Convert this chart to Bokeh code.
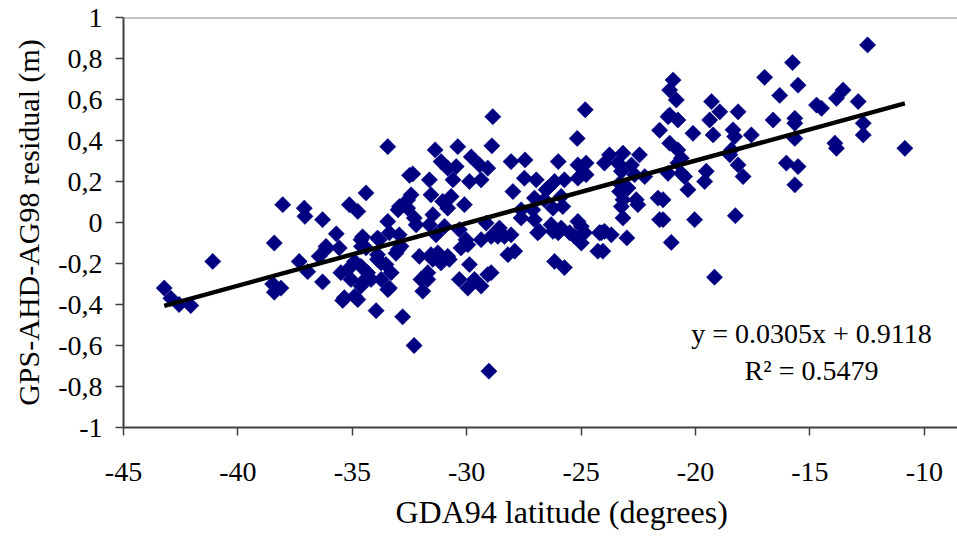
from bokeh.plotting import figure
from bokeh.models import Range1d, FixedTicker, CustomJSTickFormatter, Span, ColumnDataSource, Title
from bokeh.core.properties import value
from bokeh.embed import file_html
from bokeh.resources import INLINE
import math

# ---- data ----
lat = [
    -43.22, -42.93, -42.57, -42.06, -41.10,
    -38.41, -38.48, -38.12, -38.41, -38.04,
    -37.32, -36.95, -37.10, -37.07, -36.30, -36.30, -36.15, -35.70, -36.45, -36.15,
    -35.42, -34.76, -33.96, -32.80, -32.30, -29.03,
    -35.13, -34.76, -34.40, -33.45, -33.45, -33.00, -32.58, -32.50,
    -35.57, -34.55, -33.82, -32.95, -34.60, -33.09, -33.90, -34.90, -35.50, -34.33, -33.30,
    -35.20, -34.62, -34.18, -34.55, -33.45, -33.74, -33.00, -35.35, -34.90, -35.06, -34.62,
    -31.38, -30.39, -28.86, -28.90, -24.82, -25.17, -32.36,
    -31.12, -30.83, -30.46, -29.80, -29.44, -29.08, -28.06, -27.45, -26.00, -25.14, -24.78, -24.78, -25.14,
    -31.63, -30.60, -29.88, -29.37, -27.48, -26.96, -27.98, -26.53, -26.16, -25.73,
    -32.43, -31.56, -30.68, -32.94, -32.58, -31.05, -30.83, -30.10, -27.04, -26.60, -25.87, -25.80, -26.23, -27.62,
    -32.29, -31.48, -32.21, -31.63, -31.34, -30.97, -30.32, -29.15, -28.57, -28.35, -28.93, -29.37, -27.62, -27.04,
    -26.82, -26.31, -25.87, -25.14, -25.50, -24.85, -24.99, -24.20, -24.27,
    -28.20, -27.90, -26.16, -25.73, -29.88, -30.25, -29.95, -30.32, -29.66, -29.08, -29.37, -29.95,
    -31.70, -31.48, -31.26, -30.83, -32.07, -31.92, -32.00, -33.38, -33.74, -33.53, -33.90, -32.87,
    -34.40, -34.62, -33.90, -33.38,
    -31.12, -30.76, -31.56, -28.93, -30.03, -28.64, -28.06, -26.90, -26.00, -25.29, -23.00, -24.12, -23.68,
    -21.06, -24.05, -31.70,
    -21.13, -20.77, -21.57, -21.13, -20.77, -23.76, -23.17, -22.45, -23.98, -23.39, -22.80, -23.24, -22.66,
    -22.22, -21.20, -20.77, -23.32, -23.32, -22.95, -23.17, -22.59, -22.52, -23.24, -21.64, -23.17, -21.57,
    -23.98, -24.92, -26.45, -27.11, -24.99, -26.23,
    -12.48, -15.76, -16.98, -15.52, -16.32, -13.55, -13.84, -12.89, -14.71, -14.49, -20.98, -21.13, -20.84,
    -19.30, -18.94, -18.14, -19.38, -21.20, -16.61, -15.66, -15.66, -12.67, -12.67, -20.11, -19.23, -18.36,
    -18.29, -17.56, -15.66, -13.91, -13.84, -10.85, -20.62, -18.43, -18.50, -16.03, -15.52, -18.14, -17.92,
    -19.53, -19.60, -20.33, -20.48, -15.66, -20.62, -21.42, -21.42, -20.04, -18.26, -19.17,
]
residual = [
    -0.320, -0.370, -0.400, -0.405, -0.190,
    -0.100, -0.300, -0.320, -0.340, 0.087,
    -0.190, -0.240, 0.070, 0.030, 0.014, -0.290, -0.130, -0.055, -0.165, -0.117,
    -0.380, -0.376, -0.430, -0.460, -0.600, -0.725,
    0.087, 0.054, 0.144, 0.370, 0.005, 0.062, 0.110, 0.230,
    -0.124, -0.070, -0.084, -0.060, -0.117, -0.150, -0.180, -0.190, -0.245, -0.245, -0.245,
    -0.230, -0.214, -0.278, -0.290, -0.327, -0.197, -0.132, -0.367, -0.360, -0.278, -0.310,
    0.354, 0.370, 0.516, 0.374, 0.550, 0.410, 0.237,
    0.297, 0.265, 0.273, 0.320, 0.281, 0.265, 0.297, 0.305, 0.297, 0.281, 0.290, 0.233, 0.216,
    0.208, 0.208, 0.200, 0.208, 0.216, 0.208, 0.151, 0.160, 0.200, 0.208,
    0.135, 0.135, 0.127, 0.078, 0.070, 0.103, 0.070, 0.087, 0.119, 0.111, 0.127, 0.078, 0.070, 0.062,
    0.022, 0.038, -0.011, -0.011, -0.060, -0.019, -0.035, -0.003, -0.027, -0.068, -0.068, -0.084, 0.022, 0.014,
    -0.043, -0.011, -0.027, 0.005, -0.050, -0.050, -0.100, -0.050, -0.140,
    -0.157, -0.140, -0.190, -0.220, -0.205, -0.124, -0.108, -0.278, -0.278, -0.254, -0.310, -0.320,
    -0.245, -0.180, -0.148, -0.165, -0.165, -0.335, -0.278, -0.320, -0.278, -0.205, -0.157, -0.116,
    -0.124, -0.084, -0.076, -0.050,
    -0.197, -0.180, -0.157, -0.245, -0.084, -0.068, -0.060, -0.050, -0.050, -0.068, -0.075, -0.050, -0.060,
    -0.097, -0.140, -0.278,
    0.524, 0.500, 0.450, 0.387, 0.354, 0.330, 0.338, 0.330, 0.290, 0.290, 0.280, 0.250, 0.233,
    0.224, 0.240, 0.290, 0.190, 0.151, 0.168, 0.111, 0.111, 0.087, 0.078, 0.119, 0.022, 0.014,
    -0.043, 0.240, 0.168, 0.062, -0.019, -0.043,
    0.866, 0.780, 0.708, 0.670, 0.620, 0.646, 0.606, 0.590, 0.573, 0.557, 0.695, 0.646, 0.598,
    0.590, 0.540, 0.540, 0.500, 0.516, 0.500, 0.508, 0.484, 0.484, 0.427, 0.435, 0.427, 0.452,
    0.419, 0.427, 0.410, 0.387, 0.362, 0.362, 0.314, 0.354, 0.330, 0.290, 0.273, 0.281, 0.224,
    0.250, 0.200, 0.160, 0.224, 0.184, 0.240, 0.111, 0.014, 0.014, 0.033, -0.267,
]

fit_slope = 0.0305
fit_intercept = 0.9118
equation_text = "y = 0.0305x + 0.9118"
r2_text = "R² = 0.5479"
eq_pos = (-14.93, -0.54)
r2_pos = (-14.93, -0.72)

x_ticks = [-45, -40, -35, -30, -25, -20, -15, -10]
y_ticks = [-1, -0.8, -0.6, -0.4, -0.2, 0, 0.2, 0.4, 0.6, 0.8, 1]
x_title = "GDA94 latitude (degrees)"
y_title = "GPS-AHD-AG98 residual (m)"

FONT = "Liberation Serif"

p = figure(width=957, height=537, output_backend="svg", toolbar_location=None,
           x_range=Range1d(-45, -8.55), y_range=Range1d(-1, 1),
           min_border_left=123, min_border_right=0, min_border_top=17, min_border_bottom=109)
p.outline_line_color = None
p.grid.visible = False
p.background_fill_color = "white"

p.add_layout(Span(location=1, dimension="width", line_color="#8c8c8c", line_width=2))

src = ColumnDataSource(dict(x=lat, y=residual))
p.scatter("x", "y", source=src, marker="square", size=11.5, angle=math.pi / 4,
          fill_color="#000080", line_color="#000080", line_width=0.5)

x0, x1 = min(lat), max(lat)
p.line([x0, x1], [fit_slope * x0 + fit_intercept, fit_slope * x1 + fit_intercept],
       line_color="black", line_width=4.5)

p.text(x=[eq_pos[0], r2_pos[0]], y=[eq_pos[1], r2_pos[1]], text=[equation_text, r2_text],
       text_align="center", text_baseline="middle", text_font=value(FONT),
       text_font_size="28px", text_color="black")

for ax in (p.xaxis[0], p.yaxis[0]):
    ax.axis_line_color = "#404040"
    ax.axis_line_width = 2
    ax.major_tick_line_color = "#404040"
    ax.major_tick_line_width = 1.5
    ax.major_tick_in = 0
    ax.major_tick_out = 8
    ax.minor_tick_line_color = None
    ax.major_label_text_font = FONT
    ax.major_label_text_font_size = "28px"
    ax.major_label_text_color = "black"
    ax.axis_label_text_font = FONT
    ax.axis_label_text_font_size = "30px"
    ax.axis_label_text_font_style = "normal"
    ax.axis_label_text_color = "black"

p.xaxis.ticker = FixedTicker(ticks=x_ticks)
p.yaxis.ticker = FixedTicker(ticks=y_ticks)
p.xaxis.formatter = CustomJSTickFormatter(code="return Math.round(tick).toString();")
p.yaxis.formatter = CustomJSTickFormatter(code="""
    if (Math.abs(tick - Math.round(tick)) < 1e-9) { return Math.round(tick).toString(); }
    return tick.toFixed(1).replace('.', ',');
""")
p.xaxis.major_label_standoff = 27
p.yaxis.major_label_standoff = 13
p.yaxis.axis_label = y_title
p.yaxis.axis_label_standoff = 10

p.add_layout(Title(text=x_title, align="left", offset=272, standoff=16,
                   text_font=FONT, text_font_size="32px", text_font_style="normal",
                   text_color="black"), "below")

open("out.html", "w").write(file_html(p, INLINE))
